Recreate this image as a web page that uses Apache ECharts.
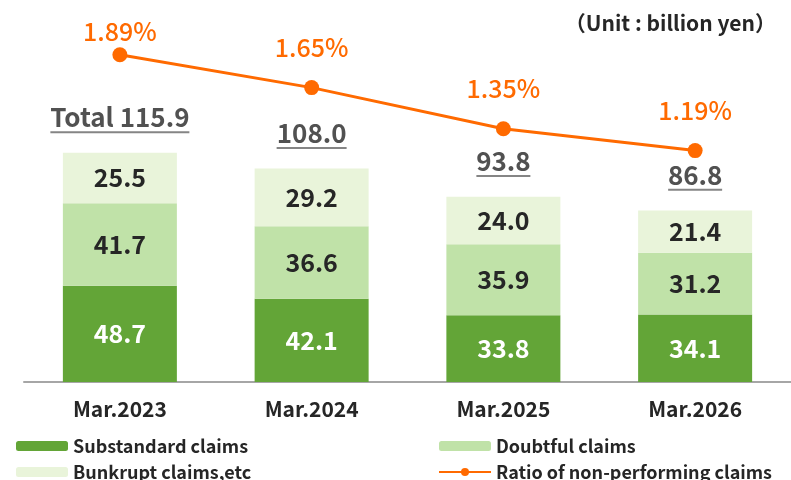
<!DOCTYPE html>
<html>
<head>
<meta charset="utf-8">
<script src="https://cdn.jsdelivr.net/npm/echarts@6/dist/echarts.min.js"></script>
<style>html,body{margin:0;padding:0;background:#fff}#c{width:791px;height:480px}</style>
</head>
<body>
<div id="c"></div>
<script>
const categories = ['Mar.2023', 'Mar.2024', 'Mar.2025', 'Mar.2026'];
const substandard = [48.7, 42.1, 33.8, 34.1];
const doubtful = [41.7, 36.6, 35.9, 31.2];
const bankrupt = [25.5, 29.2, 24.0, 21.4];
const totals = [115.9, 108.0, 93.8, 86.8];
const ratio = [1.89, 1.65, 1.35, 1.19];
const seriesNames = ['Substandard claims', 'Doubtful claims', 'Bunkrupt claims,etc', 'Ratio of non-performing claims'];
const unitText = '（Unit : billion yen）';

const FONT = '"Noto Sans CJK JP", "Noto Sans", sans-serif';
const DARK = '#262626';
const C1 = '#63A537', C2 = '#C0E2A8', C3 = '#E9F4DA', OR = '#FF6A00';
const TOTAL_FS = 26;

const totalText = (v, i) => (i === 0 ? 'Total ' : '') + v.toFixed(1);
const ctx = document.createElement('canvas').getContext('2d');
ctx.font = 'bold ' + TOTAL_FS + 'px ' + FONT;
const totalRich = {t: {fontSize: TOTAL_FS, fontWeight: 'bold', color: DARK, lineHeight: 28, fontFamily: FONT}};
totals.forEach((v, i) => {
  totalRich['u' + i] = {width: Math.round(ctx.measureText(totalText(v, i)).width), height: 2, backgroundColor: '#666', lineHeight: 2};
});

const chart = echarts.init(document.getElementById('c'), null, {renderer: 'canvas'});
const inLabel = (color) => ({
  show: true, position: 'inside', color: color, fontSize: 25, fontWeight: 'bold', fontFamily: FONT,
  formatter: p => p.value.toFixed(1)
});
const legendBase = {
  orient: 'vertical', top: 437, height: 80,
  itemWidth: 52, itemHeight: 10, itemGap: 8, padding: 0,
  textStyle: {fontSize: 18, fontWeight: 'bold', color: DARK, fontFamily: FONT}
};
chart.setOption({
  animation: false,
  textStyle: {fontFamily: FONT},
  title: {
    text: unitText, right: 10, top: 8,
    textStyle: {fontSize: 21, fontWeight: 'bold', color: DARK, fontFamily: FONT}
  },
  grid: {left: 24, right: -7, top: 26, bottom: 98},
  legend: [
    Object.assign({}, legendBase, {data: [seriesNames[0], seriesNames[2]], left: 16}),
    Object.assign({}, legendBase, {data: [seriesNames[1], seriesNames[3]], left: 438})
  ],
  xAxis: {
    type: 'category', data: categories,
    axisLine: {lineStyle: {color: '#A6A6A6', width: 2}},
    axisTick: {inside: true, length: 5, lineStyle: {color: '#A6A6A6', width: 2}},
    axisLabel: {fontSize: 21, fontWeight: 'bold', color: DARK, margin: 17, fontFamily: FONT}
  },
  yAxis: [
    {type: 'value', min: 0, max: 180, show: false},
    {type: 'value', min: -0.5, max: 2.1, show: false}
  ],
  series: [
    {name: seriesNames[0], type: 'bar', stack: 'a', data: substandard, barWidth: 114,
      itemStyle: {color: C1}, label: inLabel('#fff')},
    {name: seriesNames[1], type: 'bar', stack: 'a', data: doubtful, barWidth: 114,
      itemStyle: {color: C2}, label: inLabel(DARK)},
    {name: seriesNames[2], type: 'bar', stack: 'a', data: bankrupt, barWidth: 114,
      itemStyle: {color: C3}, label: inLabel(DARK)},
    {name: 'total', type: 'scatter', data: totals, symbolSize: 1, silent: true,
      itemStyle: {color: 'rgba(0,0,0,0)'}, z: 10,
      label: {
        show: true, position: 'top', distance: 19,
        formatter: p => '{t|' + totalText(p.value, p.dataIndex) + '}\n{u' + p.dataIndex + '|}',
        rich: totalRich
      }},
    {name: seriesNames[3], type: 'line', yAxisIndex: 1,
      data: ratio.map((v, i) => ({value: v, label: {distance: i === 0 ? 3 : 20}})),
      symbol: 'circle', symbolSize: 15, z: 20,
      lineStyle: {color: OR, width: 3}, itemStyle: {color: OR},
      label: {show: true, position: 'top', color: OR, fontSize: 25, fontWeight: 500, fontFamily: FONT,
        formatter: p => p.value.toFixed(2) + '%'}}
  ]
});
</script>
</body>
</html>
